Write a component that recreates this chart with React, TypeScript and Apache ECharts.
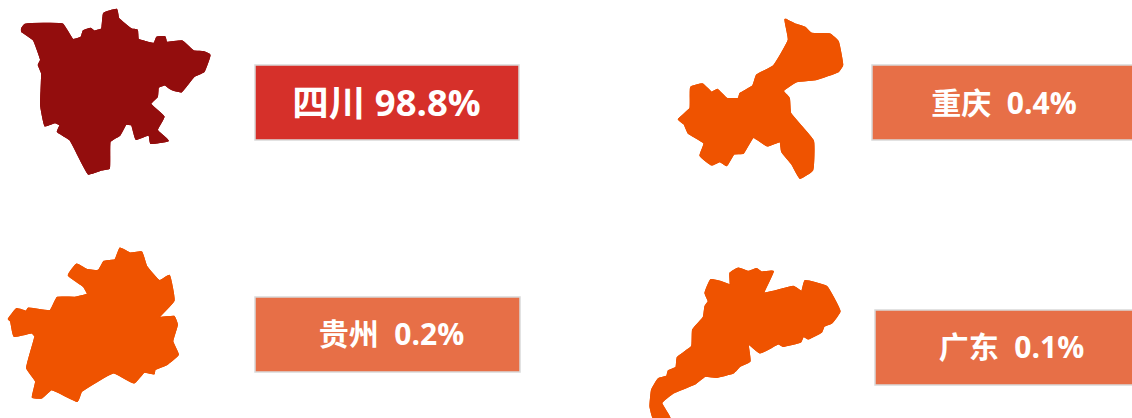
import React, { useEffect, useRef } from "react";
import * as echarts from "echarts";

const provinces = ["四川", "重庆", "贵州", "广东"];
const shares = ["98.8%", "0.4%", "0.2%", "0.1%"];
const separators = [" ", "  ", "  ", "  "];

const boxes = [
  [255, 65, 264, 75, "#D6302A", 36.5],
  [872, 65, 262, 75, "#E76F47", 30],
  [255, 297, 265, 75, "#E76F47", 30],
  [875, 310, 259, 75, "#E76F47", 30],
];
const textCenters = [386.5, 1004, 391.5, 1011.5];
const textYOffsets = [-1, -0.5, -1, -1];
const shapeColors = ["#930B0C", "#EF5306", "#EF5306", "#EF5306"];
const offsets = [[0, 0], [660, 10], [0, 238], [640, 258]];
const outlines: number[][][] = [
  [[65,85],[75,73],[130,70],[188,72],[218,118],[243,112],[250,92],[272,85],[283,93],[305,86],[311,40],[350,28],[356,55],[395,87],[412,90],[415,118],[462,130],[470,112],[495,110],[500,127],[547,123],[580,152],[610,155],[630,165],[612,215],[582,230],[545,275],[525,272],[508,265],[495,255],[475,262],[472,290],[452,312],[492,350],[472,390],[505,422],[452,430],[447,405],[408,418],[395,375],[378,373],[360,405],[330,425],[328,505],[305,510],[265,522],[210,420],[172,395],[180,375],[165,368],[135,378],[122,315],[125,220],[115,195],[122,180],[100,120],[65,95]],
  [[375,28],[405,42],[435,52],[455,70],[510,72],[535,95],[548,165],[535,185],[470,208],[410,215],[370,242],[388,265],[392,310],[460,392],[458,480],[420,505],[395,462],[365,425],[360,395],[322,408],[280,382],[250,430],[222,432],[200,467],[180,455],[155,465],[120,437],[132,400],[85,370],[72,342],[55,328],[90,295],[92,232],[128,222],[155,247],[172,238],[200,265],[235,265],[240,250],[278,228],[290,195],[340,168],[385,90]],
  [[25,243],[50,212],[78,220],[85,210],[150,218],[172,178],[225,178],[262,168],[250,145],[205,112],[230,78],[262,95],[295,97],[312,70],[345,65],[360,30],[390,45],[425,42],[440,85],[478,128],[508,112],[522,188],[478,238],[522,235],[532,260],[518,310],[535,350],[500,380],[465,395],[462,408],[432,403],[402,435],[340,405],[245,460],[232,490],[155,455],[125,480],[97,478],[107,430],[80,390],[105,295],[95,285],[42,295],[32,250]],
  [[295,30],[325,40],[350,32],[365,42],[400,40],[372,105],[460,85],[485,100],[495,68],[560,85],[600,160],[575,195],[552,205],[545,222],[505,243],[490,235],[482,252],[430,265],[415,258],[360,285],[325,258],[330,310],[300,325],[280,345],[230,358],[195,355],[165,378],[100,405],[65,435],[90,480],[40,480],[30,445],[35,395],[55,362],[80,355],[85,338],[108,328],[112,298],[155,265],[158,215],[190,178],[195,145],[205,130],[195,105],[212,65],[240,70],[270,80],[270,45]],
];

export default function App() {
  const ref = useRef<HTMLDivElement>(null);
  useEffect(() => {
    document.body.style.margin = "0";
    const chart = echarts.init(ref.current!, null, { renderer: "svg" });
    const elements: any[] = [];
    provinces.forEach((name, i) => {
      const [x, y, w, h, fill, size] = boxes[i] as [number, number, number, number, string, number];
      const [ox, oy] = offsets[i];
      elements.push({
        type: "polygon",
        shape: { points: outlines[i].map(([px, py]) => [ox + px / 3, oy + py / 3]), smooth: 0.12 },
        style: { fill: shapeColors[i], stroke: shapeColors[i], lineWidth: 1.2, lineJoin: "round", shadowBlur: 1.5, shadowColor: shapeColors[i] },
      });
      elements.push({
        type: "rect",
        shape: { x, y, width: w, height: h },
        style: { fill, stroke: "#D9D9D9", lineWidth: 1.5 },
      });
      elements.push({
        type: "text",
        x: textCenters[i],
        y: y + h / 2 + textYOffsets[i],
        style: {
          text: name + separators[i] + shares[i],
          fill: "#FFFFFF",
          font: `bold ${size}px "Open Sans", "Noto Sans CJK SC", sans-serif`,
          textAlign: "center",
          textVerticalAlign: "middle",
        },
      });
    });
    chart.setOption({ animation: false, backgroundColor: "#FFFFFF", graphic: { elements } });
    return () => chart.dispose();
  }, []);
  return <div ref={ref} style={{ width: 1132, height: 418 }} />;
}
